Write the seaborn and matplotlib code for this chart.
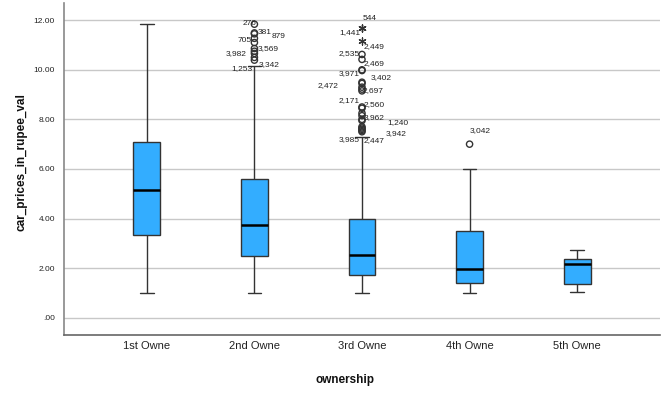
import pandas as pd
import numpy as np
import matplotlib.pyplot as plt
import seaborn as sns

# Box summary (whisker ends, quartiles, median)
owners = ['1st Owne', '2nd Owne', '3rd Owne', '4th Owne', '5th Owne']
whisker_low = [0.98, 0.98, 0.98, 0.98, 1.05]
q1 = [3.32, 2.49, 1.71, 1.39, 1.35]
median = [5.15, 3.75, 2.52, 1.98, 2.15]
q3 = [7.08, 5.58, 3.98, 3.50, 2.35]
whisker_high = [11.84, 10.15, 7.30, 5.98, 2.73]

# Outliers: owner group, value, case label, marker kind (o = outlier, * = extreme)
out_group = ['2nd Owne'] * 10 + ['3rd Owne'] * 23 + ['4th Owne']
out_value = [11.84, 11.49, 11.45, 11.27, 11.10, 10.86, 10.75, 10.66, 10.50, 10.39,
             11.68, 11.68, 11.15, 10.62, 10.42, 10.00, 9.97, 9.50, 9.45, 9.30,
             9.22, 9.15, 8.50, 8.45, 8.25, 8.15, 8.00, 7.95, 7.65, 7.55, 7.50,
             7.60, 7.70,
             7.00]
out_label = ['276', '381', '879', '705', '', '3,569', '', '3,982', '3,342', '1,253',
             '544', '1,441', '2,449', '2,535', '2,469', '3,971', '', '3,402', '2,472', '2,697',
             '', '', '2,560', '2,171', '3,962', '', '1,240', '', '3,942', '3,985', '2,447',
             '', '',
             '3,042']
out_kind = ['o'] * 10 + ['*', '*', '*'] + ['o'] * 20 + ['o']

# label placement (pixel offsets from the marker; side of the text)
lab_dx = [2, 3, 17, -3, 0, 3, 0, -8, 4, -2,
          1, -2, 2, -2, 2, -2, 0, 9, -24, 1,
          0, 0, 2, -2, 2, 0, 25, 0, 24, -2, 2,
          0, 0,
          0]
lab_dy = [1, 0, -3, -2, 0, 0, 0, 0, -7, -8,
          10, -4, -5, 1, -4, -4, 0, 5, -2, -3,
          0, 0, 2, 8, -4, 0, -3, 0, -5, -9, -9,
          0, 0,
          14]
lab_side = ['right', 'left', 'left', 'right', '', 'left', '', 'right', 'left', 'right',
            'left', 'right', 'left', 'right', 'left', 'right', '', 'left', 'right', 'left',
            '', '', 'left', 'right', 'left', '', 'left', '', 'left', 'right', 'left',
            '', '',
            'left']

rows = []
for i, o in enumerate(owners):
    for v in (whisker_low[i], q1[i], median[i], q3[i], whisker_high[i]):
        rows.append({'ownership': o, 'car_prices_in_rupee_val': v})
df = pd.DataFrame(rows)

sns.set_theme(style='white')
plt.rcParams['font.family'] = ['Liberation Sans', 'DejaVu Sans']

fig = plt.figure(figsize=(6.68, 3.93), dpi=100)
ax = fig.add_axes([0.0958, 0.1476, 0.8922, 0.8444])

ax.yaxis.grid(True, color='#c8c8c8', linewidth=1)
ax.set_axisbelow(True)

sns.boxplot(data=df, x='ownership', y='car_prices_in_rupee_val', order=owners,
            whis=(0, 100), showfliers=False, width=0.25, color='#33adff',
            linecolor='#333333', linewidth=1, saturation=1,
            medianprops=dict(color='black', linewidth=1.8), ax=ax)

pos = [owners.index(g) for g in out_group]
for x, v, k in zip(pos, out_value, out_kind):
    if k == 'o':
        ax.scatter(x, v, s=20, facecolors='none', edgecolors='#333333', linewidths=1, zorder=4)
    else:
        ax.scatter(x, v, s=26, marker=(6, 2, 0), color='#333333', linewidths=0.9, zorder=4)

for x, v, t, dx, dy, side in zip(pos, out_value, out_label, lab_dx, lab_dy, lab_side):
    if not t:
        continue
    ax.annotate(t, (x, v), xytext=(dx, dy), textcoords='offset pixels',
                ha=side, va='center', fontsize=6, color='#222222', zorder=5)

ax.set_xlim(-0.77, 4.77)
ax.set_ylim(-0.70, 12.69)
ax.set_yticks([0, 2, 4, 6, 8, 10, 12])
ax.set_yticklabels(['.00', '2.00', '4.00', '6.00', '8.00', '10.00', '12.00'])
ax.set_xticks(range(len(owners)))
ax.set_xticklabels(owners)
ax.tick_params(axis='both', length=0, colors='#222222')
ax.tick_params(axis='y', labelsize=6, pad=6.5)
ax.tick_params(axis='x', labelsize=8, pad=4.5)

ax.set_xlabel('ownership', fontsize=8.5, fontweight='bold', color='#111111')
ax.set_ylabel('car_prices_in_rupee_val', fontsize=8.5, fontweight='bold', color='#111111')
ax.xaxis.set_label_coords(0.471, -0.117)
ax.yaxis.set_label_coords(-0.062, 0.52)

for side in ['top', 'right']:
    ax.spines[side].set_visible(False)
ax.spines['left'].set_color('#888888')
ax.spines['bottom'].set_color('#666666')
ax.spines['left'].set_linewidth(1.2)
ax.spines['bottom'].set_linewidth(1.2)

plt.savefig('out.png', dpi=100)
